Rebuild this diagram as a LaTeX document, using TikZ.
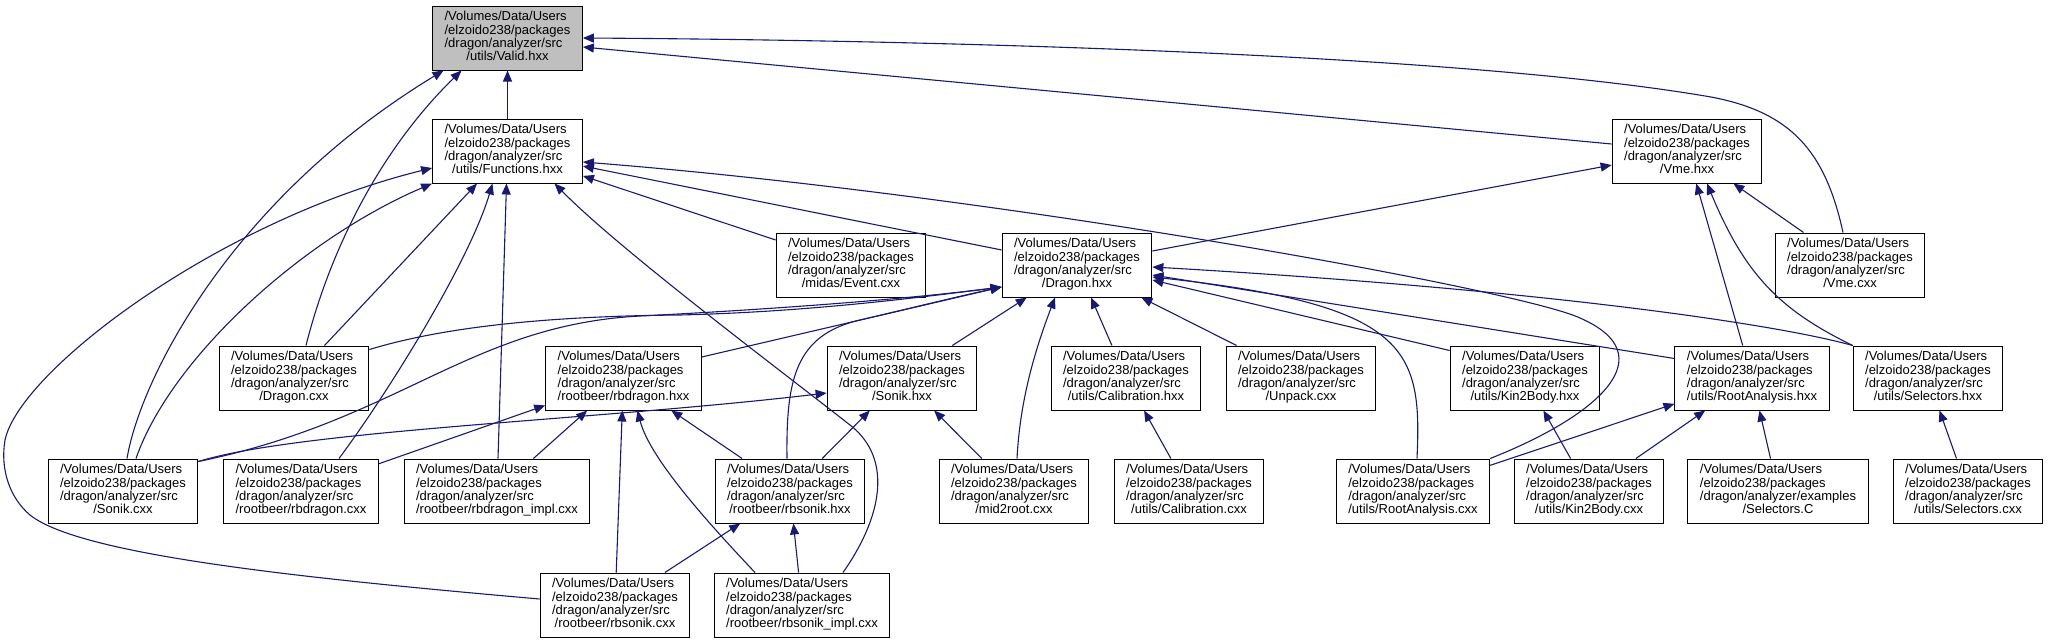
\documentclass[tikz,border=0pt]{standalone}
\usepackage{fontspec}
\setmainfont{Liberation Sans}
\usepackage{tikz}
\usetikzlibrary{arrows.meta}

\definecolor{edgeblue}{HTML}{191970}

% file box text: three left aligned lines, last one centred
\newcommand{\fpath}[2][/dragon/analyzer/src]{%
  \begin{tabular}{@{}l@{}}/Volumes/Data/Users\\/elzoido238/packages\\#1\\\multicolumn{1}{@{}c@{}}{#2}\end{tabular}}

\begin{document}
\begin{tikzpicture}[x=1pt, y=-1pt,
    file/.style={draw=black, line width=1pt, fill=white, minimum height=64pt,
      inner xsep=12pt, inner ysep=2pt, font=\fontsize{13}{13}\selectfont},
    edge/.style={draw=edgeblue, line width=1.1pt, -{Triangle[length=11pt,width=9pt]}}]
    \useasboundingbox (0,0) rectangle (2048,643);

    % Nodes
    \node[file, fill=gray!50] (valid) at (507.5,38) {\fpath{/utils/Valid.hxx}};
    \node[file] (func) at (507.5,151) {\fpath{/utils/Functions.hxx}};
    \node[file] (vmeh) at (1687,151) {\fpath{/Vme.hxx}};
    \node[file] (event) at (851,265) {\fpath{/midas/Event.cxx}};
    \node[file] (dragonh) at (1077,265) {\fpath{/Dragon.hxx}};
    \node[file] (vmec) at (1850,265) {\fpath{/Vme.cxx}};
    \node[file] (dragonc) at (294,378) {\fpath{/Dragon.cxx}};
    \node[file] (rbdragonh) at (623.5,378) {\fpath{/rootbeer/rbdragon.hxx}};
    \node[file] (sonikh) at (902,378) {\fpath{/Sonik.hxx}};
    \node[file] (calibh) at (1126,378) {\fpath{/utils/Calibration.hxx}};
    \node[file] (unpack) at (1301,378) {\fpath{/Unpack.cxx}};
    \node[file] (kinh) at (1525,378) {\fpath{/utils/Kin2Body.hxx}};
    \node[file] (rootah) at (1752,378) {\fpath{/utils/RootAnalysis.hxx}};
    \node[file] (selh) at (1928,378) {\fpath{/utils/Selectors.hxx}};
    \node[file] (sonikc) at (123,491) {\fpath{/Sonik.cxx}};
    \node[file] (rbdragonc) at (301,491) {\fpath{/rootbeer/rbdragon.cxx}};
    \node[file] (rbdragonimpl) at (497,491) {\fpath{/rootbeer/rbdragon\_impl.cxx}};
    \node[file] (rbsonikh) at (790,491) {\fpath{/rootbeer/rbsonik.hxx}};
    \node[file] (mid2root) at (1014,491) {\fpath{/mid2root.cxx}};
    \node[file] (calibc) at (1189,491) {\fpath{/utils/Calibration.cxx}};
    \node[file] (rootac) at (1413,491) {\fpath{/utils/RootAnalysis.cxx}};
    \node[file] (kinc) at (1589,491) {\fpath{/utils/Kin2Body.cxx}};
    \node[file] (selC) at (1778,491) {\fpath[/dragon/analyzer/examples]{/Selectors.C}};
    \node[file] (selc) at (1968,491) {\fpath{/utils/Selectors.cxx}};
    \node[file] (rbsonikc) at (615,605) {\fpath{/rootbeer/rbsonik.cxx}};
    \node[file] (rbsonikimpl) at (802,605) {\fpath{/rootbeer/rbsonik\_impl.cxx}};

    % Includes of Valid.hxx
    \draw[edge] (func) -- (valid);
    \draw[edge] ([yshift=7pt]vmeh.west) -- ([yshift=-9pt]valid.east);
    \draw[edge] ([xshift=-7pt]vmec.north) .. controls (1825,150) and (1790,112) .. (1711,97)
        .. controls (1450,52) and (900,40) .. (valid.east);
    \draw[edge] ([xshift=4pt]sonikc.north) .. controls (140,380) and (230,200) .. ([xshift=-64pt]valid.south);
    \draw[edge] ([xshift=12pt]dragonc.north) .. controls (330,250) and (380,150) .. ([xshift=-46pt]valid.south);

    % Includes of Functions.hxx
    \draw[edge] (event) -- (func);
    \draw[edge] (dragonh) -- (func);
    \draw[edge] (rootac.north east) .. controls (1600,415) and (1665,355) .. (1580,318)
        .. controls (1520,290) and (1000,195) .. ([yshift=-11pt]func.east);
    \draw[edge] ([xshift=13pt]sonikc.north) .. controls (170,360) and (300,240) .. (func.south west);
    \draw[edge] (dragonc) -- (func);
    \draw[edge] ([xshift=38pt]rbdragonc.north) .. controls (390,390) and (470,260) .. ([xshift=-15pt]func.south);
    \draw[edge] (rbdragonimpl) -- (func);
    \draw[edge] ([yshift=6pt]rbsonikc.west) .. controls (300,578) and (80,555) .. (30,515)
        .. controls (10,498) and (0,470) .. (5,440)
        .. controls (20,370) and (220,220) .. ([yshift=-17pt]func.west);
    \draw[edge] ([xshift=41pt]rbsonikimpl.north) .. controls (880,520) and (895,460) .. (850,425)
        .. controls (780,370) and (620,250) .. ([xshift=47pt]func.south);

    % Includes of Vme.hxx
    \draw[edge] (dragonh) -- (vmeh);
    \draw[edge] (vmec) -- (vmeh);
    \draw[edge] (rootah) -- (vmeh);
    \draw[edge] (selh.north west) .. controls (1780,310) and (1745,275) .. ([xshift=20pt]vmeh.south);

    % Includes of Dragon.hxx
    \draw[edge] ([yshift=-4pt]dragonc.north east) .. controls (450,325) and (560,316) .. (680,315)
        .. controls (800,312) and (900,300) .. ([yshift=-22pt]dragonh.west);
    \draw[edge] ([yshift=-3pt]sonikc.north east) .. controls (400,420) and (470,325) .. (640,316)
        .. controls (760,310) and (900,300) .. ([yshift=-22pt]dragonh.west);
    \draw[edge] ([yshift=21pt]rbdragonh.east) -- ([yshift=-22pt]dragonh.west);
    \draw[edge] ([xshift=-3pt]rbsonikh.north) .. controls (786,380) and (795,335) .. (860,320)
        .. controls (920,306) and (960,296) .. ([yshift=-22pt]dragonh.west);
    \draw[edge] (sonikh) -- (dragonh);
    \draw[edge] ([xshift=3pt]mid2root.north) .. controls (1020,400) and (1035,350) .. ([xshift=-22pt]dragonh.south);
    \draw[edge] (calibh) -- (dragonh);
    \draw[edge] (unpack) -- (dragonh);
    \draw[edge] ([yshift=-5pt]kinh.north west) -- ([yshift=-15pt]dragonh.east);
    \draw[edge] ([yshift=-13pt]rootah.north west) -- ([yshift=-10pt]dragonh.east);
    \draw[edge] (selh.north west) .. controls (1780,325) and (1550,290) .. ([yshift=-2pt]dragonh.east);
    \draw[edge] ([xshift=4pt]rootac.north) .. controls (1422,350) and (1410,305) .. ([yshift=-12pt]dragonh.east);

    % Includes of rbdragon.hxx
    \draw[edge] (rbdragonc) -- (rbdragonh);
    \draw[edge] (rbdragonimpl) -- (rbdragonh);
    \draw[edge] (rbsonikc) -- (rbdragonh);
    \draw[edge] ([xshift=-47pt]rbsonikimpl.north) .. controls (715,530) and (650,460) .. ([xshift=14pt]rbdragonh.south);
    \draw[edge] (rbsonikh) -- (rbdragonh);

    % Includes of Sonik.hxx and rbsonik.hxx
    \draw[edge] ([yshift=-3pt]sonikc.north east) .. controls (300,430) and (600,420) .. ([yshift=-15pt]sonikh.west);
    \draw[edge] (rbsonikh) -- (sonikh);
    \draw[edge] (mid2root) -- (sonikh);
    \draw[edge] (rbsonikc) -- (rbsonikh);
    \draw[edge] (rbsonikimpl) -- (rbsonikh);

    % Remaining headers
    \draw[edge] (calibc) -- (calibh);
    \draw[edge] (kinc) -- (kinh);
    \draw[edge] (rootac) -- (rootah);
    \draw[edge] (kinc) -- (rootah);
    \draw[edge] (selC) -- (rootah);
    \draw[edge] (selc) -- (selh);
\end{tikzpicture}
\end{document}
